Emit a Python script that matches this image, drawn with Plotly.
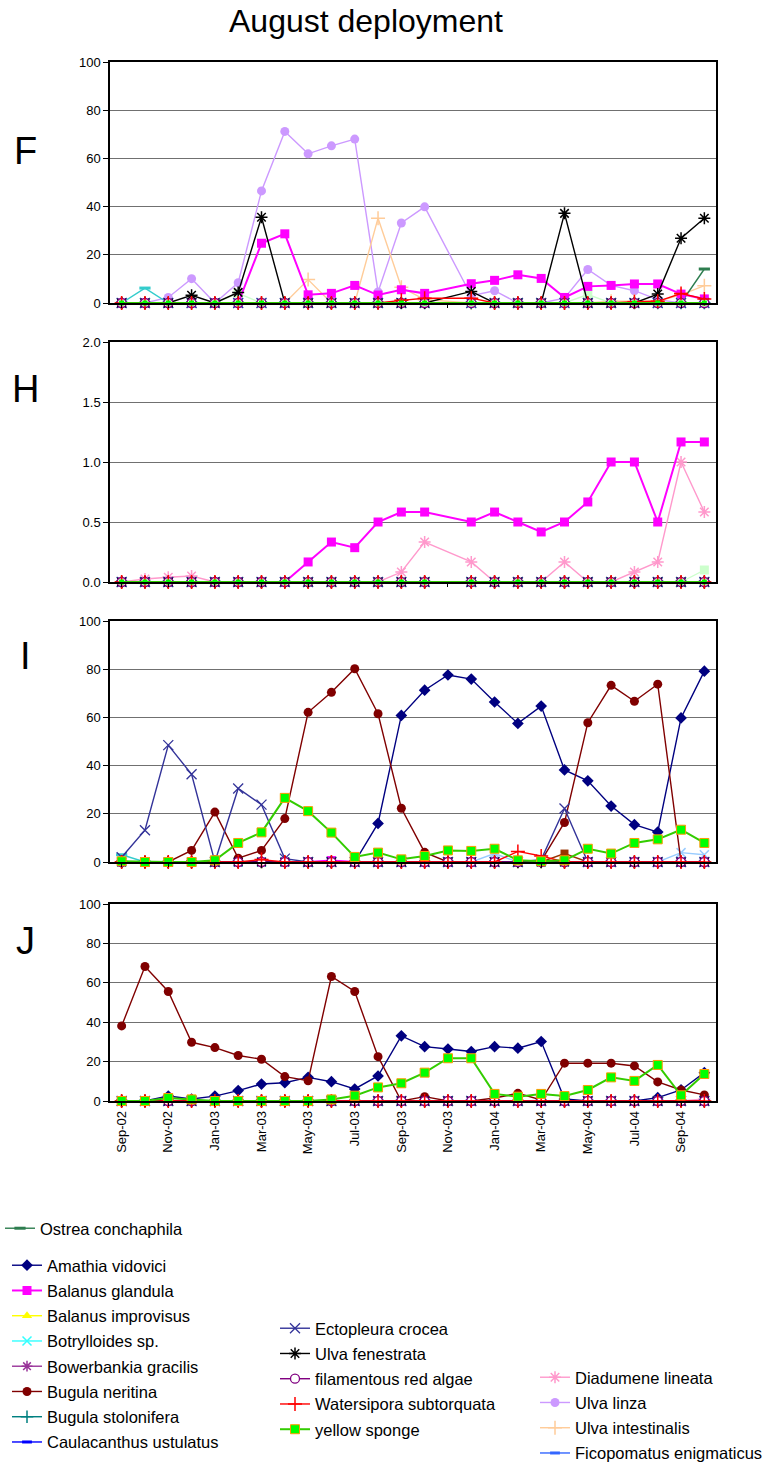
import plotly.graph_objects as go

# ---------------------------------------------------------------- categories
MONTHS = ["Sep-02", "Oct-02", "Nov-02", "Dec-02", "Jan-03", "Feb-03", "Mar-03",
          "Apr-03", "May-03", "Jun-03", "Jul-03", "Aug-03", "Sep-03", "Oct-03",
          "Nov-03", "Dec-03", "Jan-04", "Feb-04", "Mar-04", "Apr-04", "May-04",
          "Jun-04", "Jul-04", "Aug-04", "Sep-04", "Oct-04"]
TICK_MONTHS = ["Sep-02", "Nov-02", "Jan-03", "Mar-03", "May-03", "Jul-03", "Sep-03",
               "Nov-03", "Jan-04", "Mar-04", "May-04", "Jul-04", "Sep-04"]

# percent cover, series that stay at zero all along
ZERO = [0, 0, 0, 0, 0, 0, 0, 0, 0, 0, 0, 0, 0, 0, 0, 0, 0, 0, 0, 0, 0, 0, 0, 0, 0, 0]
# stations F and H were not sampled in Nov-03
ZERO_NOV_GAP = [0, 0, 0, 0, 0, 0, 0, 0, 0, 0, 0, 0, 0, 0, None, 0, 0, 0, 0, 0, 0, 0, 0, 0, 0, 0]

# ---------------------------------------------------------------- panel F
F_ulva_linza = [0, 0, 2.3, 10.1, 0, 8.4, 46.5, 71.2, 61.9, 65.2, 68.0, 4.6, 33.2, 39.9,
                None, 3.0, 5.1, 0, 0, 2.0, 13.9, 7.3, 5.1, 1.4, 0, 0]
F_balanus_glandula = [0, 0, 0, 0, 0, 0, 24.8, 28.7, 3.4, 4.0, 7.3, 3.3, 5.5, 4.0,
                      None, 8.0, 9.4, 11.7, 10.2, 2.3, 6.9, 7.3, 7.9, 7.9, 3.7, 1.7]
F_ulva_fenestrata = [0, 0, 0, 3.2, 0, 4.4, 35.6, 0, 0, 0, 0, 0, 0, 0,
                     None, 4.8, 0, 0, 0, 37.2, 0, 0, 0, 3.7, 26.9, 35.2]
F_ulva_intestinalis = [0, 0, 0, 0, 0, 0, 0, 0, 9.7, 0, 0, 35.2, 6.5, 1.4,
                       None, 0, 0, 0, 0, 0, 0, 0.7, 0.7, 0.7, 3.4, 7.2]
F_watersipora = [0, 0, 0, 0, 0, 0, 0, 0, 0, 0, 0, 0, 1.1, 2.0,
                 None, 2.0, 0, 0, 0, 0, 0, 0, 0.5, 0.7, 3.9, 1.7]
F_ostrea = [0, 0, 0, 0, 0, 0, 0, 0, 0, 0, 0, 0, 0, 0,
            None, 0, 0, 0, 0, 0, 0, 0, 0, 0, 0, 14.1]
F_teal_dash = [0, 6.2, 0, 0, 0, 0, 0, 0, 0, 0, 0, 0, 0, 0,
               None, 0, 0, 0, 0, 0, 0, 0, 0, 0, 0, 0]
F_pale_green = [0, 0, 0, 0, 0, 4.0, 0, 0, 0, 0, 0, 0, 0, 0,
                None, 0, 0, 0, 0, 0, 3.5, 0, 0, 0, 0, 0]

# ---------------------------------------------------------------- panel H
H_balanus_glandula = [0, 0, 0, 0, 0, 0, 0, 0, 0.167, 0.333, 0.286, 0.5, 0.583, 0.583,
                      None, 0.5, 0.583, 0.5, 0.417, 0.5, 0.667, 1.0, 1.0, 0.5, 1.167, 1.167]
H_diadumene = [0, 0.025, 0.04, 0.05, 0, 0, 0, 0, 0, 0, 0, 0, 0.083, 0.333,
               None, 0.167, 0, 0, 0, 0.167, 0, 0, 0.083, 0.167, 1.0, 0.583]
H_pale_green = [0, 0, 0, 0, 0, 0, 0, 0, 0, 0, 0, 0, 0, 0,
                None, 0, 0, 0, 0, 0, 0, 0, 0, 0, 0, 0.1]

# ---------------------------------------------------------------- panel I
I_amathia = [0, 0, 0, 0, 0, 0, 0, 0, 0, 0, 0, 16.0, 60.8, 71.3, 77.6, 75.9, 66.4,
             57.5, 64.7, 38.2, 33.7, 23.2, 15.5, 12.4, 59.8, 79.2]
I_bugula_neritina = [0, 0, 0, 4.8, 20.7, 1.6, 4.8, 18.0, 62.1, 70.4, 80.2, 61.5, 22.3,
                     4.0, 0, 0, 0, 0, 0.5, 16.4, 57.8, 73.3, 66.7, 73.8, 0, 0]
I_ectopleura = [2.0, 13.2, 48.5, 36.4, 0, 30.5, 23.8, 1.4, 0, 0, 0, 0, 0, 0, 0, 0, 0,
                0, 1.0, 22.2, 0, 0, 0, 0, 0, 0]
I_yellow_sponge = [0.3, 0, 0, 0, 0.7, 7.9, 12.3, 26.6, 21.1, 12.2, 2.1, 3.9, 1.1, 2.5,
                   4.8, 4.6, 5.5, 0.7, 0.3, 0.7, 5.5, 3.5, 7.9, 9.4, 13.4, 7.9]
I_watersipora = [0, 0, 0, 0, 0, 0, 1.0, 0, 0, 0, 0, 0, 0, 0, 0, 0, 0, 4.4, 2.5, 0,
                 0, 0, 0, 0, 0, 0]
I_balanus_glandula = [0, 0, 0, 0, 0, 0, 0, 0, 0, 0.6, 0, 0, 0, 0, 0, 0, 0, 0, 0, 0,
                      0, 0, 0, 0, 0, 0]
I_teal_dash = [3.0, 0, 0, 0, 0, 0, 0, 0, 0, 0, 0, 0, 0, 0, 0, 0, 0, 0, 0, 0,
               0, 0, 0, 0, 0, 0]
I_brown = [0, 0, 0, 0, 0, 0, 0, 0, 0, 0, 0, 0, 0, 0, 0, 0, 0, 0, 0, 3.5,
           0, 0, 0, 0, 0, 0]
I_light_blue = [0, 0, 0, 0, 0, 0, 0, 0, 0, 0, 0, 0, 0, 0, 0, 0, 3.5, 0, 0, 0,
                0, 0, 0, 0, 3.9, 3.0]

# ---------------------------------------------------------------- panel J
J_bugula_neritina = [38.1, 68.3, 55.6, 29.8, 27.1, 23.1, 21.2, 12.4, 10.3, 63.2, 55.6,
                     22.5, 0, 2.2, 0, 0, 1.5, 3.9, 0.5, 19.2, 19.2, 19.2, 17.8, 9.7, 5.6, 3.1]
J_amathia = [0, 0, 2.5, 1.0, 2.5, 5.3, 8.6, 9.3, 12.0, 9.8, 6.1, 12.7, 33.1, 27.6,
             26.4, 25.1, 27.6, 26.8, 30.2, 1.0, 0, 0, 0, 1.7, 5.6, 14.4]
J_yellow_sponge = [0, 0, 1.5, 0.8, 0, 0, 0, 0, 0, 0.8, 2.7, 6.9, 9.0, 14.4, 21.7, 21.7,
                   3.6, 2.2, 3.6, 2.5, 5.6, 12.0, 10.2, 18.3, 2.9, 13.7]
J_diadumene = [0, 0, 0, 0, 0, 0, 0, 0, 0, 0, 0, 0, 0, 0, 0, 0, 0, 0, 0, 0,
               0, 0, 0, 0, 0, 1.0]

# ---------------------------------------------------------------- styles
STYLE = {
    "Ostrea conchaphila": dict(color="#2E7D4F", symbol="line-ew", size=8, lw=3),
    "Amathia vidovici": dict(color="#000080", symbol="diamond", size=9),
    "Balanus glandula": dict(color="#FF00FF", symbol="square", size=9),
    "Balanus improvisus": dict(color="#FFFF00", symbol="triangle-up", size=9),
    "Botrylloides sp.": dict(color="#33FFFF", symbol="x-thin", size=9, lw=1.5),
    "Bowerbankia gracilis": dict(color="#993399", symbol="asterisk", size=9, lw=1.5),
    "Bugula neritina": dict(color="#800000", symbol="circle", size=9),
    "Bugula stolonifera": dict(color="#008080", symbol="cross-thin", size=9, lw=1.5),
    "Caulacanthus ustulatus": dict(color="#0000FF", symbol="line-ew", size=7, lw=3),
    "Ectopleura crocea": dict(color="#333399", symbol="x-thin", size=10, lw=1.3),
    "Ulva fenestrata": dict(color="#000000", symbol="asterisk", size=10, lw=1.5),
    "filamentous red algae": dict(color="#800080", symbol="circle", size=9, fill="#FFFFFF", lw=1.3),
    "Watersipora subtorquata": dict(color="#FF0000", symbol="cross-thin", size=10, lw=1.5),
    "yellow sponge": dict(color="#33CC00", symbol="square", size=9, fill="#00FF00",
                          edge="#FF9900", lw=1),
    "Diadumene lineata": dict(color="#FF99CC", symbol="asterisk", size=10, lw=1.5),
    "Ulva linza": dict(color="#CC99FF", symbol="circle", size=9),
    "Ulva intestinalis": dict(color="#FFCC99", symbol="cross-thin", size=10, lw=1.5),
    "Ficopomatus enigmaticus": dict(color="#3366FF", symbol="line-ew", size=7, lw=3),
    # series without a legend entry
    "pale green": dict(color="#CCFFCC", symbol="square", size=9),
    "teal dash": dict(color="#33CCCC", symbol="line-ew", size=8, lw=3),
    "brown": dict(color="#993300", symbol="square", size=8),
    "light blue": dict(color="#99CCFF", symbol="x-thin", size=9, lw=1.5),
}

# drawing order, bottom to top
DRAW_ORDER = ["Ulva linza", "Ulva intestinalis", "Diadumene lineata", "pale green",
              "teal dash", "brown", "light blue", "Ficopomatus enigmaticus",
              "Ostrea conchaphila", "Amathia vidovici", "Balanus glandula",
              "Balanus improvisus", "Botrylloides sp.", "Bowerbankia gracilis",
              "Bugula neritina", "Bugula stolonifera", "Caulacanthus ustulatus",
              "Ectopleura crocea", "Ulva fenestrata", "filamentous red algae",
              "Watersipora subtorquata", "yellow sponge"]

# legend columns
LEGEND_COLUMNS = {
    "legend": ["Ostrea conchaphila"],
    "legend2": ["Amathia vidovici", "Balanus glandula", "Balanus improvisus",
                "Botrylloides sp.", "Bowerbankia gracilis", "Bugula neritina",
                "Bugula stolonifera", "Caulacanthus ustulatus"],
    "legend3": ["Ectopleura crocea", "Ulva fenestrata", "filamentous red algae",
                "Watersipora subtorquata", "yellow sponge"],
    "legend4": ["Diadumene lineata", "Ulva linza", "Ulva intestinalis",
                "Ficopomatus enigmaticus"],
}

PANELS = [
    dict(letter="F", zero=ZERO_NOV_GAP, small_sponge=True, series={
        "Ulva linza": F_ulva_linza, "Balanus glandula": F_balanus_glandula,
        "Ulva fenestrata": F_ulva_fenestrata, "Ulva intestinalis": F_ulva_intestinalis,
        "Watersipora subtorquata": F_watersipora, "Ostrea conchaphila": F_ostrea,
        "teal dash": F_teal_dash, "pale green": F_pale_green}),
    dict(letter="H", zero=ZERO_NOV_GAP, small_sponge=True, series={
        "Balanus glandula": H_balanus_glandula, "Diadumene lineata": H_diadumene,
        "pale green": H_pale_green}),
    dict(letter="I", zero=ZERO, small_sponge=False, series={
        "Amathia vidovici": I_amathia, "Bugula neritina": I_bugula_neritina,
        "Ectopleura crocea": I_ectopleura, "yellow sponge": I_yellow_sponge,
        "Watersipora subtorquata": I_watersipora, "Balanus glandula": I_balanus_glandula,
        "teal dash": I_teal_dash, "brown": I_brown, "light blue": I_light_blue}),
    dict(letter="J", zero=ZERO, small_sponge=False, series={
        "Bugula neritina": J_bugula_neritina, "Amathia vidovici": J_amathia,
        "yellow sponge": J_yellow_sponge, "Diadumene lineata": J_diadumene}),
]

# ---------------------------------------------------------------- geometry (px)
W, H = 767, 1465
PLOT_LEFT, PLOT_RIGHT = 110, 716
PANEL_BOX = {"F": (62, 303), "H": (342, 582), "I": (621, 862), "J": (904, 1101)}
PANEL_RANGE = {"F": (0, 100, 20, None), "H": (0, 2, 0.5, ".1f"),
               "I": (0, 100, 20, None), "J": (0, 100, 20, None)}
LETTER_Y = {"F": 151, "H": 389, "I": 656, "J": 941}

FONT = "Liberation Sans, Arial, sans-serif"


def px_x(v):
    return v / W


def px_y(v):
    return 1 - v / H


legend_of = {name: key for key, names in LEGEND_COLUMNS.items() for name in names}
rank_of = {name: i for names in LEGEND_COLUMNS.values() for i, name in enumerate(names)}

fig = go.Figure()

for p_i, panel in enumerate(PANELS):
    suffix = "" if p_i == 0 else str(p_i + 1)
    xa, ya = "x" + suffix, "y" + suffix
    for name in DRAW_ORDER:
        st = STYLE[name]
        values = panel["series"].get(name, panel["zero"])
        size = st["size"]
        if name == "yellow sponge" and panel["small_sponge"]:
            size = 5
        marker = dict(symbol=st["symbol"], size=size,
                      color=st.get("fill", st["color"]),
                      line=dict(width=st.get("lw", 0),
                                color=st.get("edge", st["color"])))
        if name == "yellow sponge" and panel["small_sponge"]:
            marker["line"] = dict(width=0)
        in_legend = name in legend_of and panel["letter"] == "I"
        trace = go.Scatter(
            x=MONTHS, y=values, name=name, mode="lines+markers",
            xaxis=xa, yaxis=ya, connectgaps=True,
            line=dict(color=st["color"],
                      width=2 if name in ("yellow sponge", "Balanus glandula") else 1.4),
            marker=marker, cliponaxis=False,
            legendgroup=name, showlegend=in_legend,
            hoverinfo="x+y+name",
        )
        if name in legend_of:
            trace.update(legend=legend_of[name], legendrank=rank_of[name] + 1)
        fig.add_trace(trace)

    top, bottom = PANEL_BOX[panel["letter"]]
    lo, hi, step, fmt = PANEL_RANGE[panel["letter"]]
    is_last = p_i == len(PANELS) - 1
    fig.layout["xaxis" + suffix] = dict(
        domain=[px_x(PLOT_LEFT), px_x(PLOT_RIGHT)], anchor=ya,
        type="category", categoryorder="array", categoryarray=MONTHS,
        range=[-0.5, len(MONTHS) - 0.5],
        tickmode="array", tickvals=TICK_MONTHS, ticktext=TICK_MONTHS,
        showticklabels=is_last, tickangle=-90,
        tickfont=dict(family=FONT, size=13, color="black"),
        ticks="outside", ticklen=3, tickcolor="black",
        showline=True, linecolor="black", linewidth=1.5, mirror=True,
        showgrid=False, zeroline=False, fixedrange=True, automargin=False,
    )
    fig.layout["yaxis" + suffix] = dict(
        domain=[px_y(bottom), px_y(top)], anchor=xa,
        range=[lo, hi], dtick=step, tick0=0, tickformat=fmt,
        tickfont=dict(family=FONT, size=13, color="black"),
        ticks="outside", ticklen=5, tickcolor="black",
        showline=True, linecolor="black", linewidth=1.5, mirror=True,
        showgrid=True, gridcolor="#707070", gridwidth=1,
        zeroline=False, fixedrange=True, automargin=False,
    )
    fig.add_annotation(text=panel["letter"], xref="paper", yref="paper",
                       x=px_x(25), y=px_y(LETTER_Y[panel["letter"]]),
                       xanchor="center", yanchor="middle", showarrow=False,
                       font=dict(family=FONT, size=38, color="black"))

fig.add_annotation(text="August deployment", xref="paper", yref="paper",
                   x=px_x(366), y=px_y(21), xanchor="center", yanchor="middle",
                   showarrow=False, font=dict(family=FONT, size=32, color="black"))

legend_common = dict(font=dict(family=FONT, size=16.5, color="black"),
                     bgcolor="rgba(0,0,0,0)", borderwidth=0,
                     traceorder="grouped", itemwidth=30, itemclick=False,
                     itemdoubleclick=False, tracegroupgap=0.8,
                     xanchor="left", yanchor="top")

fig.update_layout(
    width=W, height=H, autosize=False,
    margin=dict(l=0, r=0, t=0, b=0, autoexpand=False),
    paper_bgcolor="white", plot_bgcolor="white",
    legend=dict(x=px_x(0), y=px_y(1211), **legend_common),
    legend2=dict(x=px_x(7), y=px_y(1248), **legend_common),
    legend3=dict(x=px_x(275), y=px_y(1311), **legend_common),
    legend4=dict(x=px_x(535), y=px_y(1360), **legend_common),
    hovermode="closest",
)

fig.write_html("out.html")
